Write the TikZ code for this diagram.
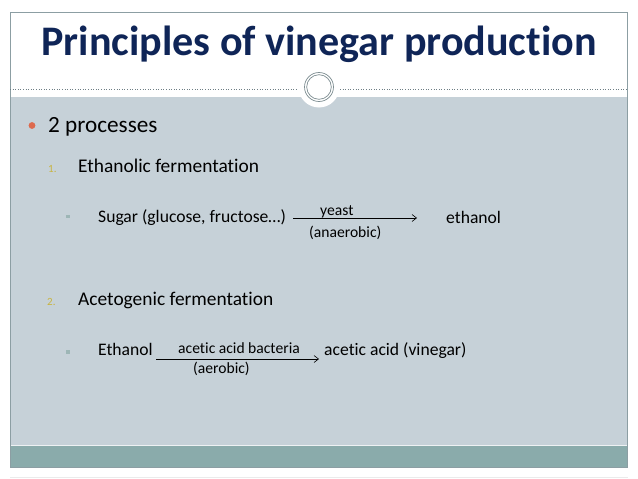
\documentclass[tikz,border=0pt]{standalone}
\usepackage{fontspec}
\setmainfont{Carlito}[Ligatures=NoCommon]
\usetikzlibrary{arrows.meta}
\definecolor{navy}{HTML}{0F2557}
\definecolor{panel}{HTML}{C6D1D8}
\definecolor{foot}{HTML}{8AABAB}
\definecolor{frame}{HTML}{8C9EA3}
\definecolor{dotc}{HTML}{6E7E84}
\definecolor{bulor}{HTML}{DD6A4E}
\definecolor{numc}{HTML}{C8B440}
\definecolor{sqc}{HTML}{9DB6B6}
\definecolor{ring}{HTML}{7E8E92}
\begin{document}
\begin{tikzpicture}[x=1pt,y=-1pt,
  txt/.style={inner sep=0pt,anchor=base west,text=black},
  lbl/.style={inner sep=0pt,anchor=base west,font=\fontsize{15.6}{18}\selectfont,text=black},
  num/.style={inner sep=0pt,anchor=base west,text=numc,font=\fontsize{11}{13}\selectfont},
  arr/.style={-{Straight Barb[length=4.5pt,width=7pt]},line width=0.6pt,black}]
\useasboundingbox (0,0) rectangle (638,479);
\fill[white] (0,0) rectangle (638,479);
\draw[black!8,line width=1pt] (10,477) -- (628,477);
% panels
\fill[panel] (10,97) rectangle (627,445);
\fill[foot] (10,445) rectangle (627,467);
\draw[white!70!panel,line width=1pt] (10,445) -- (627,445);
\draw[frame,line width=0.8pt] (10,12) rectangle (627,467);
% dotted line and circle
\draw[dotc,dotted,line width=0.6pt] (10,89) -- (298,89);
\draw[dotc,dotted,line width=0.6pt] (340,89) -- (627,89);
\fill[white] (319,87) circle (20.5);
\draw[ring,line width=0.7pt] (319,87) circle (14.5);
\draw[ring,line width=0.7pt] (319,87) circle (12.3);
% title
\node[inner sep=0pt,anchor=base,text=navy,font=\fontsize{42.1}{48}\selectfont\bfseries] (title) at (319,55) {Principles of vinegar production};
% level 1
\fill[bulor] (32,125.5) circle (3.4);
\node[txt,font=\fontsize{23.2}{27}\selectfont] (p2) at (48,132) {2 processes};
% item 1
\node[num] (n1) at (48,172) {1.};
\node[txt,font=\fontsize{19.4}{23}\selectfont] (eth) at (78,172) {Ethanolic fermentation};
\fill[sqc] (66,214.5) rectangle (69.5,218);
\node[txt,font=\fontsize{17.6}{21}\selectfont] (sugar) at (98,222) {Sugar (glucose, fructose…)};
\node[txt,font=\fontsize{17.6}{21}\selectfont] (ethanol) at (446,223) {ethanol};
\coordinate (a1s) at (293,218);
\coordinate (a1e) at (417,218);
\draw[arr] (a1s) -- (a1e);
\node[lbl] (yeast) at (320,215) {yeast};
\node[lbl] (anaer) at (309,237) {(anaerobic)};
% item 2
\node[num] (n2) at (47,305) {2.};
\node[txt,font=\fontsize{19.4}{23}\selectfont] (aceto) at (78,305) {Acetogenic fermentation};
\fill[sqc] (66,350) rectangle (69.5,353.5);
\node[txt,font=\fontsize{17.6}{21}\selectfont] (eth2) at (98,355) {Ethanol};
\node[txt,font=\fontsize{17.6}{21}\selectfont] (acetic) at (324,355) {acetic acid (vinegar)};
\coordinate (a2s) at (156,359);
\coordinate (a2e) at (319,359);
\draw[arr] (a2s) -- (a2e);
\node[lbl] (aab) at (178,353) {acetic acid bacteria};
\node[lbl] (aer) at (193,373) {(aerobic)};
\end{tikzpicture}
\end{document}
